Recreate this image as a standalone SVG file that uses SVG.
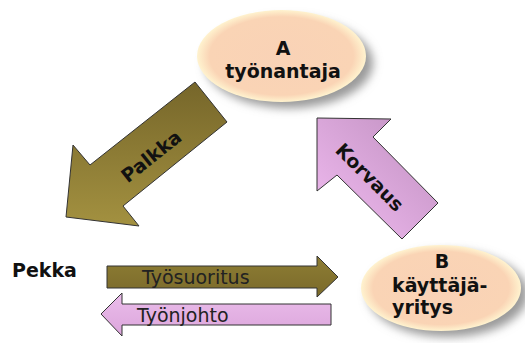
<svg xmlns="http://www.w3.org/2000/svg" width="525" height="343" viewBox="0 0 525 343">
<defs>
<radialGradient id="peach" cx="50%" cy="50%" r="50%">
<stop offset="0" stop-color="#f9d2b6"/>
<stop offset="0.85" stop-color="#fad4b5"/>
<stop offset="1" stop-color="#fff3cf"/>
</radialGradient>
<linearGradient id="olive" x1="0" y1="0" x2="0" y2="1">
<stop offset="0" stop-color="#76662a"/>
<stop offset="1" stop-color="#a39140"/>
</linearGradient>
<linearGradient id="oliveH" x1="0" y1="0" x2="0" y2="1">
<stop offset="0" stop-color="#8e7d34"/>
<stop offset="1" stop-color="#7a6a2a"/>
</linearGradient>
<linearGradient id="pink" x1="0" y1="1" x2="1" y2="0">
<stop offset="0" stop-color="#f3bdf3"/>
<stop offset="1" stop-color="#bf8fbf"/>
</linearGradient>
<linearGradient id="pinkH" x1="0" y1="0" x2="0" y2="1">
<stop offset="0" stop-color="#eabcea"/>
<stop offset="1" stop-color="#dca6dc"/>
</linearGradient>
<filter id="blur" x="-30%" y="-30%" width="160%" height="160%">
<feGaussianBlur stdDeviation="5"/>
</filter>
</defs>
<style>
.b{font-family:"DejaVu Sans",Verdana,sans-serif;font-weight:bold;font-size:19px;fill:#111}
.r{font-family:"DejaVu Sans",Verdana,sans-serif;font-size:19px;fill:#222}
.arr{stroke:#333;stroke-width:1}
.sh{fill:#9a9a9a;filter:url(#blur)}
</style>
<g id="connectors">
<g id="palkka">
<polygon class="arr" fill="url(#olive)" points="195,82 227,122 123,206 139,226 66,217 73,145 90,165"/>
<text class="b" text-anchor="middle" transform="translate(151,156) rotate(-38.5)" y="7">Palkka</text>
</g>
<g id="korvaus">
<polygon class="arr" fill="url(#pink)" points="317,118 391,119 373,137 438,203 402,239 337,175 317,191"/>
<text class="b" text-anchor="middle" transform="translate(370,177) rotate(45)" y="7">Korvaus</text>
</g>
<g id="tyosuoritus">
<polygon class="arr" fill="url(#oliveH)" points="107,266 317,266 317,256 338,277 317,297 317,288 107,288"/>
<text class="r" x="142" y="284">Työsuoritus</text>
</g>
<g id="tyonjohto">
<polygon class="arr" fill="url(#pinkH)" points="331,304 122,304 122,293 101,314 122,336 122,325 331,325"/>
<text class="r" x="137" y="322">Työnjohto</text>
</g>
</g>
<g id="nodeA">
<ellipse class="sh" cx="289" cy="63" rx="84" ry="45"/>
<ellipse cx="281.5" cy="56" rx="84.5" ry="46" fill="url(#peach)"/>
<text class="b" text-anchor="middle" x="283" y="55">A</text>
<text class="b" text-anchor="middle" x="283" y="78">työnantaja</text>
</g>
<g id="nodeB">
<ellipse class="sh" cx="448" cy="294" rx="80" ry="43"/>
<ellipse cx="441" cy="288" rx="80" ry="43" fill="url(#peach)"/>
<text class="b" text-anchor="middle" x="442" y="268">B</text>
<text class="b" x="392" y="292">käyttäjä-</text>
<text class="b" x="392" y="314">yritys</text>
</g>
<g id="pekka">
<text class="b" x="12" y="277">Pekka</text>
</g>
</svg>
